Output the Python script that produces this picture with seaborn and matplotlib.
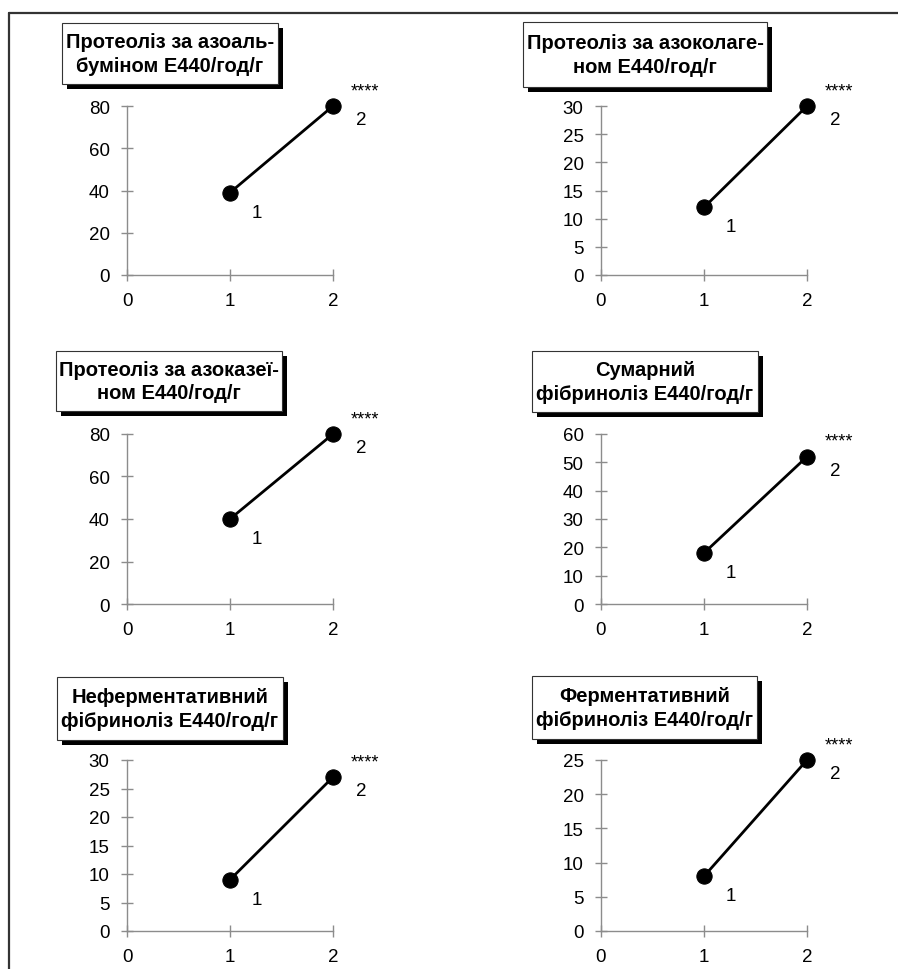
import matplotlib
matplotlib.use("Agg")
import matplotlib.pyplot as plt
from matplotlib.patches import Rectangle
from matplotlib.lines import Line2D
import seaborn as sns
import pandas as pd

#%% Data
groups = [1, 2]
titles = [
    "Протеоліз за азоаль-\nбуміном Е440/год/г",
    "Протеоліз за азоколаге-\nном Е440/год/г",
    "Протеоліз за азоказеї-\nном Е440/год/г",
    "Сумарний\nфібриноліз Е440/год/г",
    "Неферментативний\nфібриноліз Е440/год/г",
    "Ферментативний\nфібриноліз Е440/год/г",
]
values = [
    [39, 80],
    [12, 30],
    [40, 80],
    [18, 52],
    [9, 27],
    [8, 25],
]
y_max = [80, 30, 80, 60, 30, 25]
y_step = [20, 5, 20, 10, 5, 5]
x_ticks = [0, 1, 2]
signif = "****"

#%% Layout (pixels in a 898x970 figure)
W, H = 898, 970
col_left = [127, 601]
ax_w = 206
row_top = [107, 435, 761]
row_bot = [276, 605, 932]
title_boxes = [
    (62, 24, 278, 85),
    (523, 23, 767, 88),
    (56, 352, 282, 412),
    (532, 352, 758, 413),
    (57, 678, 283, 741),
    (532, 677, 757, 740),
]

sns.set_style("white")
plt.rcParams['font.family'] = ['Liberation Sans', 'DejaVu Sans']
plt.rcParams['text.color'] = 'black'

fig = plt.figure(figsize=(W / 100, H / 100), dpi=100)

# outer frame (top and left edges visible)
fig.add_artist(Line2D([9 / W, 1], [1 - 14 / H, 1 - 14 / H], transform=fig.transFigure,
                      color='#333333', lw=1.6))
fig.add_artist(Line2D([9 / W, 9 / W], [0, 1 - 14 / H], transform=fig.transFigure,
                      color='#333333', lw=1.6))

grey = '#8c8c8c'
for i in range(6):
    r, c = divmod(i, 2)
    left = col_left[c] / W
    bottom = 1 - row_bot[r] / H
    height = (row_bot[r] - row_top[r]) / H
    ax = fig.add_axes([left, bottom, ax_w / W, height])

    df = pd.DataFrame({'group': groups, 'value': values[i]})
    sns.lineplot(data=df, x='group', y='value', ax=ax, color='black', lw=2,
                 marker='o', markersize=11, markeredgecolor='black', clip_on=False)

    ax.set_xlim(0, 2)
    ax.set_ylim(0, y_max[i])
    ax.set_xticks(x_ticks)
    ax.set_yticks(range(0, y_max[i] + 1, y_step[i]))
    ax.set_xlabel('')
    ax.set_ylabel('')
    for s in ['top', 'right']:
        ax.spines[s].set_visible(False)
    for s in ['left', 'bottom']:
        ax.spines[s].set_color(grey)
        ax.spines[s].set_linewidth(1)
    ax.tick_params(bottom=True, left=True, direction='inout', length=9, width=1, color=grey,
                   labelsize=13.5, labelcolor='black')
    ax.tick_params(axis='y', pad=8)
    ax.tick_params(axis='x', pad=8)

    # point labels
    ax.annotate('1', (groups[0], values[i][0]), xytext=(19, -14), textcoords='offset points',
                ha='center', va='center', fontsize=13.5, color='black')
    ax.annotate('2', (groups[1], values[i][1]), xytext=(20, -10), textcoords='offset points',
                ha='center', va='center', fontsize=13.5, color='black')
    ax.annotate(signif, (groups[1], values[i][1]), xytext=(23, 11), textcoords='offset points',
                ha='center', va='center', fontsize=13, color='black')

    # title box with shadow
    x0, y0, x1, y1 = title_boxes[i]
    sh = 5
    fig.add_artist(Rectangle(((x0 + sh) / W, 1 - (y1 + sh) / H), (x1 - x0) / W, (y1 - y0) / H,
                             transform=fig.transFigure, facecolor='black', edgecolor='black', lw=0))
    fig.add_artist(Rectangle((x0 / W, 1 - y1 / H), (x1 - x0) / W, (y1 - y0) / H,
                             transform=fig.transFigure, facecolor='white', edgecolor='#333333', lw=0.8))
    fig.text((x0 + x1) / 2 / W, 1 - (y0 + y1) / 2 / H, titles[i], ha='center', va='center',
             fontsize=14.5, fontweight='bold', linespacing=1.3, color='black')

fig.savefig('out.png', dpi=100)
